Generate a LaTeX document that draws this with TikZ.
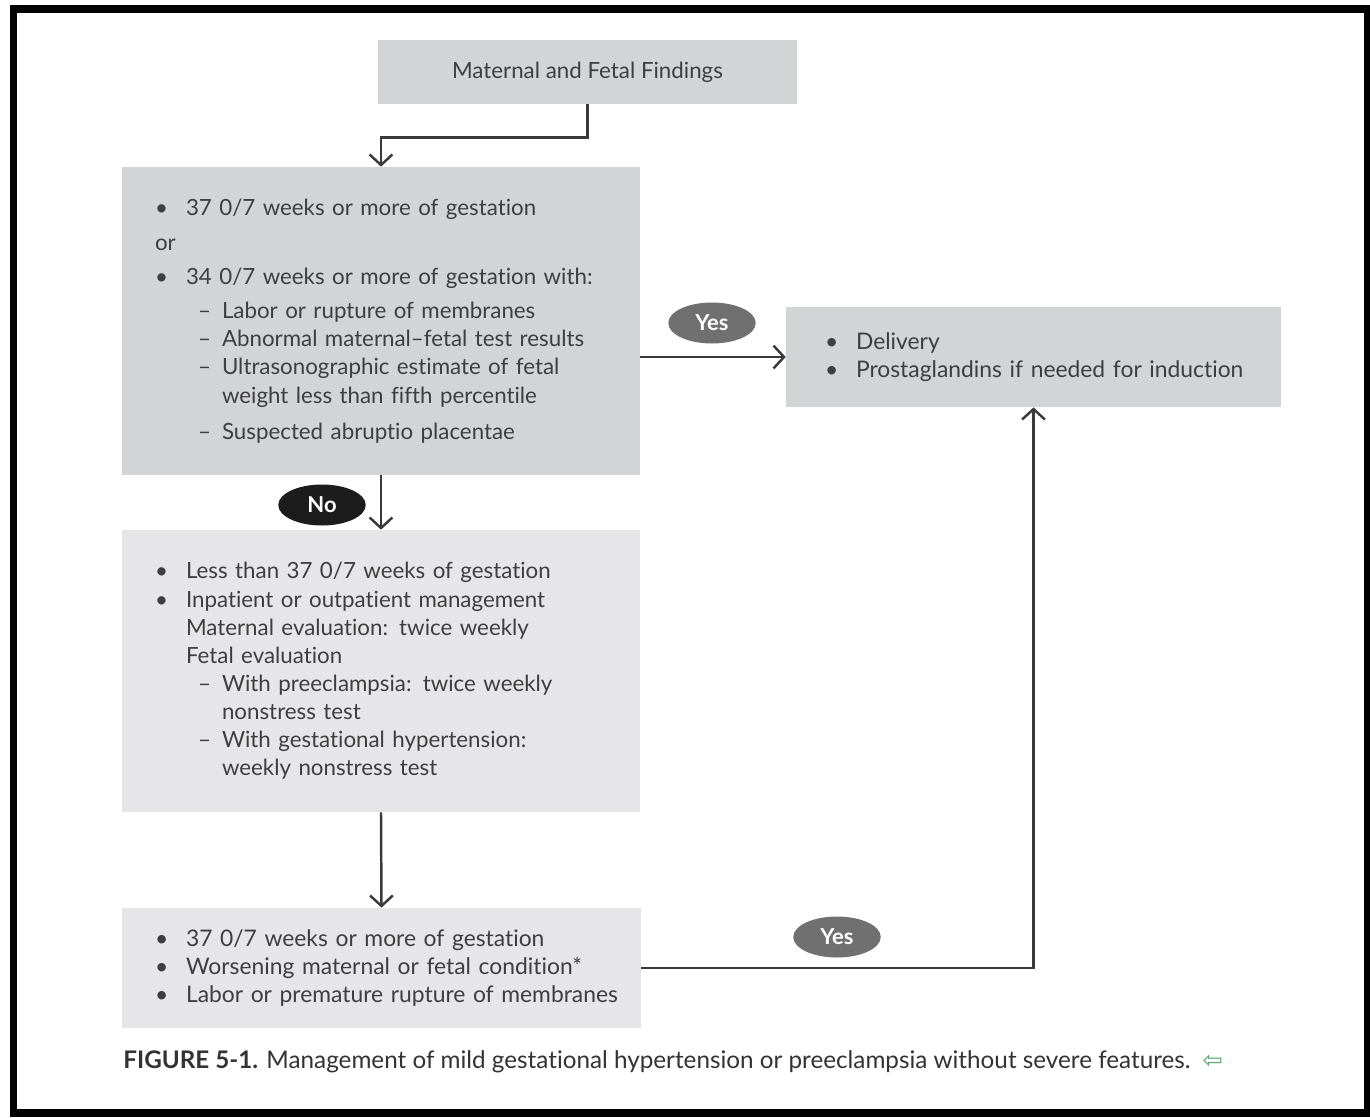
\documentclass[tikz,border=0pt]{standalone}
\usepackage{fontspec}
\setmainfont{Lato}[Ligatures=NoCommon]
\newfontfamily\symfont{DejaVu Sans}
\usetikzlibrary{arrows.meta,shapes.geometric}

\definecolor{boxdark}{RGB}{211,212,214}
\definecolor{boxlight}{RGB}{230,230,232}
\definecolor{ink}{RGB}{62,62,62}
\definecolor{linegray}{RGB}{58,58,58}
\definecolor{yesgray}{RGB}{112,112,112}
\definecolor{nodark}{RGB}{28,28,28}
\definecolor{backgreen}{RGB}{90,170,110}

\newcommand\bitem{\makebox[0.62cm][l]{\textbullet}}
\newcommand\ditem{\hspace*{0.86cm}\makebox[0.48cm][l]{--}}
\newcommand\dcont{\hspace*{1.34cm}}
\newcommand\bcont{\hspace*{0.62cm}}

\begin{document}
\begin{tikzpicture}[x=0.02cm,y=-0.02cm,
    box/.style={rectangle,inner ysep=0pt,align=left,text=ink,font=\fontsize{12.7}{16}\selectfont},
    tag/.style={ellipse,minimum width=1.75cm,minimum height=0.82cm,inner sep=0pt,text=white,font=\fontsize{12.5}{14}\selectfont\bfseries},
    arr/.style={draw=linegray,line width=1.4pt,-{Straight Barb[length=6pt,width=13pt]}}]
        \useasboundingbox (0,0) rectangle (1370,1117);
        \fill[white] (0,0) rectangle (1370,1117);
        \draw[line width=0.16cm] (13.5,9) rectangle (1368,1113);

        \node[box,fill=boxdark,align=center,minimum width=8.38cm,minimum height=1.28cm] (find) at (587.5,72) {Maternal and Fetal Findings};
        \node[box,fill=boxdark,inner xsep=0.66cm,text width=9.04cm,minimum height=6.16cm] (case) at (381,321) {%
            \bitem 37 0/7 weeks or more of gestation\\[3.9pt]
            or\\[3.4pt]
            \bitem 34 0/7 weeks or more of gestation with:\\[3.4pt]
            \ditem Labor or rupture of membranes\\
            \ditem Abnormal maternal--fetal test results\\
            \ditem Ultrasonographic estimate of fetal\\
            \dcont weight less than fifth percentile\\[4.5pt]
            \ditem Suspected abruptio placentae};
        \node[box,fill=boxdark,inner xsep=0.78cm,text width=8.34cm,minimum height=2cm,font=\fontsize{13}{16}\selectfont] (deliv) at (1033.5,357) {%
            \bitem\mbox{Delivery}\\
            \bitem\mbox{Prostaglandins if needed for induction}};
        \node[box,fill=boxlight,inner xsep=0.66cm,text width=9.04cm,minimum height=5.64cm] (manage) at (381,671) {%
            \bitem Less than 37 0/7 weeks of gestation\\
            \bitem Inpatient or outpatient management\\
            \bcont Maternal evaluation: twice weekly\\
            \bcont Fetal evaluation\\
            \ditem With preeclampsia: twice weekly\\
            \dcont nonstress test\\
            \ditem With gestational hypertension:\\
            \dcont weekly nonstress test};
        \node[box,fill=boxlight,inner xsep=0.66cm,text width=9.06cm,minimum height=2.4cm,font=\fontsize{13}{16.2}\selectfont] (watch) at (381.5,968) {%
            \bitem\mbox{37 0/7 weeks or more of gestation}\\
            \bitem\mbox{Worsening maternal or fetal condition*}\\
            \bitem\mbox{Labor or premature rupture of membranes}};

        \draw[arr] (find.south) -- ++(0,33) -| (case.north);
        \draw[arr] (case.south) -- (manage.north);
        \draw[arr] (case.east |- deliv.west) -- (deliv.west);
        \draw[arr] (manage.south) -- (watch.north);
        \draw[arr] (watch.east) -| (deliv.south);

        \node[tag,fill=nodark] (no) at (322,505) {No};
        \node[tag,fill=yesgray] (yes1) at (712,323) {Yes};
        \node[tag,fill=yesgray] (yes2) at (837,937) {Yes};

        \node[anchor=west,inner sep=0pt,text=black!80,font=\fontsize{13.8}{16}\selectfont] (caption) at (123,1062)
            {\textbf{FIGURE 5-1.} Management of mild gestational hypertension or preeclampsia without severe features.\enspace{\symfont\color{backgreen}⇦}};
\end{tikzpicture}
\end{document}
